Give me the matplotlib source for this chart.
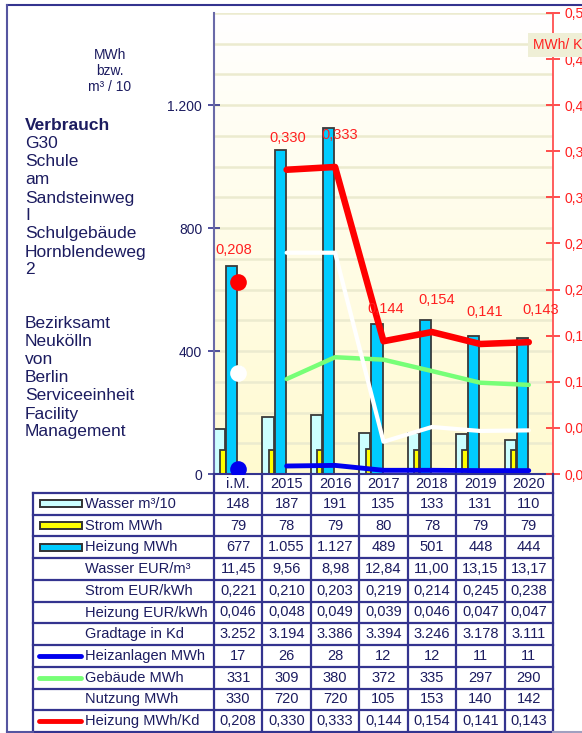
import numpy as np
import matplotlib
matplotlib.use("Agg")
import matplotlib.pyplot as plt
from matplotlib.colors import LinearSegmentedColormap
from matplotlib.lines import Line2D
from matplotlib.patches import Rectangle
from matplotlib.ticker import FuncFormatter

plt.rcParams['font.family'] = ['Liberation Sans', 'DejaVu Sans']

# Daten
kategorien = ["i.M.", "2015", "2016", "2017", "2018", "2019", "2020"]
wasser_m3_10 = [148, 187, 191, 135, 133, 131, 110]
strom_mwh = [79, 78, 79, 80, 78, 79, 79]
heizung_mwh = [677, 1055, 1127, 489, 501, 448, 444]
wasser_eur_m3 = [11.45, 9.56, 8.98, 12.84, 11.00, 13.15, 13.17]
strom_eur_kwh = [0.221, 0.210, 0.203, 0.219, 0.214, 0.245, 0.238]
heizung_eur_kwh = [0.046, 0.048, 0.049, 0.039, 0.046, 0.047, 0.047]
gradtage_kd = [3252, 3194, 3386, 3394, 3246, 3178, 3111]
heizanlagen_mwh = [17, 26, 28, 12, 12, 11, 11]
gebaeude_mwh = [331, 309, 380, 372, 335, 297, 290]
nutzung_mwh = [330, 720, 720, 105, 153, 140, 142]
heizung_mwh_kd = [0.208, 0.330, 0.333, 0.144, 0.154, 0.141, 0.143]

links_text = ["Verbrauch", "G30", "Schule", "am", "Sandsteinweg", "I", "Schulgebäude",
              "Hornblendeweg", "2", "", "", "Bezirksamt", "Neukölln", "von", "Berlin",
              "Serviceeinheit", "Facility", "Management"]

NAVY = '#1c1c60'
LINE_NAVY = '#34348f'
W, H = 582, 733


def fx(px):
    return px / W


def fy(py):
    return 1 - py / H


def fmt_int(v):
    return f"{v:,}".replace(',', '.')


def fmt_dec(n):
    return lambda v: f"{v:.{n}f}".replace('.', ',')


fig = plt.figure(figsize=(W / 100, H / 100), dpi=100)
fig.patch.set_facecolor('white')

# Hauptdiagramm
ax_l, ax_r, ax_t, ax_b = 214, 553, 13, 474
ax = fig.add_axes([fx(ax_l), fy(ax_b), fx(ax_r - ax_l), (ax_b - ax_t) / H])
ax.set_xlim(-0.5, 6.5)
ax.set_ylim(0, 1500)

cmap = LinearSegmentedColormap.from_list('bg', ['#fffad0', '#ffffff'])
ax.imshow(np.linspace(0, 1, 256).reshape(-1, 1), extent=[0, 1, 0, 1], transform=ax.transAxes,
          cmap=cmap, aspect='auto', origin='lower', zorder=0)

ax.set_yticks(range(0, 1501, 100), minor=True)
ax.set_yticks([0, 400, 800, 1200])
ax.yaxis.set_major_formatter(FuncFormatter(lambda v, p: fmt_int(int(v))))
ax.grid(True, which='both', axis='y', color='#ecebcf', lw=1.8, zorder=0.5)
ax.set_axisbelow(True)
ax.tick_params(axis='y', which='major', direction='inout', length=9, width=1.2,
               colors=LINE_NAVY, labelcolor=NAVY, labelsize=10, pad=4)
ax.tick_params(axis='y', which='minor', length=0)
ax.set_xticks([])
for s in ['top', 'right']:
    ax.spines[s].set_visible(False)
ax.spines['left'].set_color('#6a6aa8')
ax.spines['left'].set_linewidth(1.5)
ax.spines['bottom'].set_color(LINE_NAVY)
ax.spines['bottom'].set_linewidth(1.5)

xs = np.arange(len(kategorien))
edge = dict(edgecolor='#3a3a3a', linewidth=1.3, align='edge', zorder=2)
ax.bar(xs - 0.5, wasser_m3_10, width=0.23, color='#ccffff', **edge)
ax.bar(xs - 0.37, strom_mwh, width=0.11, color='#ffff00', **edge)
ax.bar(xs - 0.25, heizung_mwh, width=0.23, color='#00ccff', **edge)

ax.plot(xs[1:], gebaeude_mwh[1:], color='#77ff77', lw=3.2, solid_capstyle='round', zorder=3)
ax.plot(xs[1:], nutzung_mwh[1:], color='white', lw=3.0, solid_capstyle='round', zorder=3)
ax.plot(xs[1:], heizanlagen_mwh[1:], color='#0000ee', lw=3.5, solid_capstyle='round', zorder=3)
ax.plot(xs[0], gebaeude_mwh[0], 'o', color='#77ff77', ms=10, mew=0, zorder=3)
ax.plot(xs[0], nutzung_mwh[0], 'o', color='white', ms=12, mew=0, zorder=3)
ax.plot(xs[0], heizanlagen_mwh[0], 'o', color='#0000ee', ms=12, mew=0, zorder=3)

# rechte Achse
ax2 = ax.twinx()
ax2.set_ylim(0, 0.5)
ax2.set_yticks(np.arange(0, 0.501, 0.05))
ax2.yaxis.set_major_formatter(FuncFormatter(lambda v, p: f"{v:.2f}".replace('.', ',')))
ax2.tick_params(axis='y', direction='inout', length=10, width=1.2, colors='#ff3030',
                labelcolor='#ff2020', labelsize=10, pad=3)
for s in ['top', 'left', 'bottom']:
    ax2.spines[s].set_visible(False)
ax2.spines['right'].set_color('#ff5050')
ax2.spines['right'].set_linewidth(1.3)

ax2.plot(xs[1:], heizung_mwh_kd[1:], color='#ff0000', lw=4.7, solid_capstyle='round', zorder=4)
ax2.plot(xs[0], heizung_mwh_kd[0], 'o', color='#ff0000', ms=12, mew=0, zorder=4)
label_dx = [-4, 1, 5, 2, 5, 4, 12]
for i, v in enumerate(heizung_mwh_kd):
    ax2.annotate(fmt_dec(3)(v), (xs[i], v), xytext=(label_dx[i] * 0.72, 23),
                 textcoords='offset points', ha='center', va='center',
                 color='#ff2020', fontsize=10.5, zorder=5)

fig.text(fx(533), fy(45), "MWh/ Kd", color='#ff2020', fontsize=10, va='center', ha='left',
         bbox=dict(boxstyle='square,pad=0.35', fc='#efefd6', ec='none'))

# Texte links
for i, t in enumerate(["MWh", "bzw.", "m³ / 10"]):
    fig.text(fx(110), fy(55 + 16 * i), t, color=NAVY, fontsize=10, ha='center', va='center')
for i, t in enumerate(links_text):
    fig.text(fx(25), fy(126 + 18 * i), t, color=NAVY, fontsize=12.5, ha='left', va='center',
             fontweight='bold' if i == 0 else 'normal')

# Tabelle
tab_l, tab_b = 33, 732
col_w = (ax_r - ax_l) / 7
leg_w = (ax_l - tab_l) / col_w
tax = fig.add_axes([fx(tab_l), fy(tab_b), fx(ax_r - tab_l), (tab_b - ax_b) / H])
tax.set_xlim(-0.5 - leg_w, 6.5)
hdr_h = 19
row_h = (tab_b - ax_b - hdr_h) / 11
tax.set_ylim(tab_b - ax_b, 0)
tax.axis('off')

rows = [
    ("Wasser m³/10", wasser_m3_10, fmt_int, ('rect', '#ccffff')),
    ("Strom MWh", strom_mwh, fmt_int, ('rect', '#ffff00')),
    ("Heizung MWh", heizung_mwh, fmt_int, ('rect', '#00ccff')),
    ("Wasser EUR/m³", wasser_eur_m3, fmt_dec(2), None),
    ("Strom EUR/kWh", strom_eur_kwh, fmt_dec(3), None),
    ("Heizung EUR/kWh", heizung_eur_kwh, fmt_dec(3), None),
    ("Gradtage in Kd", gradtage_kd, fmt_int, None),
    ("Heizanlagen MWh", heizanlagen_mwh, fmt_int, ('line', '#0000ee')),
    ("Gebäude MWh", gebaeude_mwh, fmt_int, ('line', '#77ff77')),
    ("Nutzung MWh", nutzung_mwh, fmt_int, None),
    ("Heizung MWh/Kd", heizung_mwh_kd, fmt_dec(3), ('line', '#ff0000')),
]

x0 = -0.5 - leg_w
px = 1 / col_w
for i, k in enumerate(kategorien):
    tax.text(xs[i], hdr_h / 2 + 1, k, ha='center', va='center', color=NAVY, fontsize=10.5)

for r, (lab, vals, f, icon) in enumerate(rows):
    yc = hdr_h + row_h * (r + 0.5)
    tax.text(x0 + 52 * px, yc, lab, ha='left', va='center', color=NAVY, fontsize=10.5)
    for i, v in enumerate(vals):
        tax.text(xs[i], yc, f(v), ha='center', va='center', color=NAVY, fontsize=10.5)
    if icon is not None:
        if icon[0] == 'rect':
            tax.add_patch(Rectangle((x0 + 7 * px, yc - 3.5), 42 * px, 7, fc=icon[1],
                                    ec='#333333', lw=1.4, clip_on=False))
        else:
            tax.plot([x0 + 6 * px, x0 + 48 * px], [yc, yc], color=icon[1], lw=3.5,
                     solid_capstyle='round', clip_on=False)

for r in range(12):
    y = hdr_h + row_h * r
    tax.plot([x0, 6.5], [y, y], color=LINE_NAVY, lw=1.6, clip_on=False)
tax.plot([x0, x0], [hdr_h, tab_b - ax_b], color=LINE_NAVY, lw=1.6, clip_on=False)
for i in range(8):
    tax.plot([i - 0.5, i - 0.5], [0, tab_b - ax_b], color=LINE_NAVY, lw=1.6, clip_on=False)

# Rahmen
fig.add_artist(Line2D([fx(7), 1], [fy(5), fy(5)], color=LINE_NAVY, lw=1.5))
fig.add_artist(Line2D([fx(7), fx(7)], [fy(5), fy(732)], color='#5555a0', lw=1.5))
fig.add_artist(Line2D([fx(7), fx(tab_l)], [fy(732), fy(732)], color='#5555a0', lw=1.5))
fig.add_artist(Line2D([fx(ax_r), 1], [fy(732), fy(732)], color='#a0a0c0', lw=1.5))

fig.savefig('out.png', dpi=100)
